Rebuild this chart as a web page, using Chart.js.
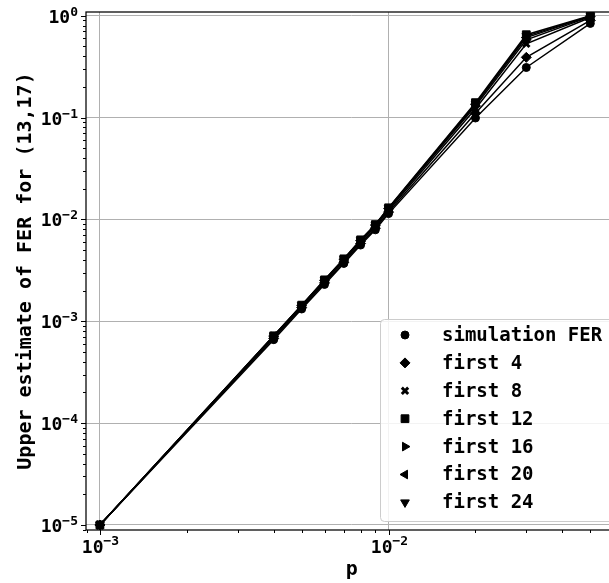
<!DOCTYPE html>
<html>
<head>
<meta charset="utf-8">
<script src="https://cdn.jsdelivr.net/npm/chart.js@4.4.1/dist/chart.umd.min.js"></script>
<style>
  html, body { margin: 0; padding: 0; background: #fff; overflow: hidden; }
  #wrap { width: 625px; height: 583px; }
</style>
</head>
<body>
<div id="wrap"><canvas id="graphique"></canvas></div>
<script>
// valeurs de p (axe x)
const pValues = [0.001, 0.004, 0.005, 0.006, 0.007, 0.008, 0.009, 0.01, 0.02, 0.03, 0.05];

// series
const simulationFER = [1e-5, 6.6e-4, 1.32e-3, 2.30e-3, 3.70e-3, 5.60e-3, 7.9e-3, 1.14e-2, 0.099, 0.31, 0.84];
const first4  = [1e-5, 6.8e-4, 1.36e-3, 2.38e-3, 3.80e-3, 5.80e-3, 8.2e-3, 1.18e-2, 0.110, 0.39, 0.90];
const first8  = [1e-5, 7.0e-4, 1.40e-3, 2.45e-3, 3.95e-3, 6.00e-3, 8.5e-3, 1.23e-2, 0.122, 0.53, 0.96];
const first12 = [1e-5, 7.2e-4, 1.44e-3, 2.55e-3, 4.10e-3, 6.30e-3, 8.9e-3, 1.30e-2, 0.140, 0.65, 1.00];
const first16 = [1e-5, 7.1e-4, 1.42e-3, 2.50e-3, 4.00e-3, 6.10e-3, 8.7e-3, 1.27e-2, 0.130, 0.58, 0.98];
const first20 = [1e-5, 7.15e-4, 1.43e-3, 2.52e-3, 4.05e-3, 6.20e-3, 8.8e-3, 1.28e-2, 0.135, 0.61, 0.99];
const first24 = [1e-5, 7.2e-4, 1.44e-3, 2.54e-3, 4.08e-3, 6.25e-3, 8.85e-3, 1.29e-2, 0.137, 0.63, 0.99];

const seriesLabels = ['simulation FER', 'first 4', 'first 8', 'first 12', 'first 16', 'first 20', 'first 24'];
const seriesValues = [simulationFER, first4, first8, first12, first16, first20, first24];

// style des marqueurs (forme, rotation, rayon, epaisseur)
const markerStyles = [
  { pointStyle: 'circle',   rotation: 0,   radius: 4,   borderWidth: 1 },
  { pointStyle: 'rectRot',  rotation: 0,   radius: 5,   borderWidth: 1 },
  { pointStyle: 'crossRot', rotation: 0,   radius: 4.5, borderWidth: 3 },
  { pointStyle: 'rect',     rotation: 0,   radius: 5.5, borderWidth: 1 },
  { pointStyle: 'triangle', rotation: 90,  radius: 5,   borderWidth: 1 },
  { pointStyle: 'triangle', rotation: -90, radius: 5,   borderWidth: 1 },
  { pointStyle: 'triangle', rotation: 180, radius: 5,   borderWidth: 1 },
];

const FONT = "'DejaVu Sans Mono', monospace";

function estDecade(v) {
  const e = Math.log10(v);
  return Math.abs(e - Math.round(e)) < 1e-9;
}

function exposant(v) {
  const e = Math.round(Math.log10(v));
  return e < 0 ? '\u2212' + (-e) : String(e);
}

function ticksLog(scale) {
  // toutes les graduations 1..9 x 10^n dans l'intervalle
  const ticks = [];
  for (let n = -7; n <= 1; n++) {
    for (let k = 1; k <= 9; k++) {
      const v = k * Math.pow(10, n);
      if (v >= scale.min * 0.9999 && v <= scale.max * 1.0001) ticks.push({ value: v });
    }
  }
  scale.ticks = ticks;
}

function ecrirePuissance(ctx, v, x, y, alignement) {
  // "10" puis l'exposant en plus petit et surélevé
  const exp = exposant(v);
  ctx.font = 'bold 18px ' + FONT;
  const w10 = ctx.measureText('10').width;
  ctx.font = 'bold 13px ' + FONT;
  const wExp = ctx.measureText(exp).width;
  const x0 = alignement === 'right' ? x - w10 - wExp : x - (w10 + wExp) / 2;
  ctx.textAlign = 'left';
  ctx.textBaseline = 'middle';
  ctx.font = 'bold 18px ' + FONT;
  ctx.fillText('10', x0, y);
  ctx.font = 'bold 13px ' + FONT;
  ctx.fillText(exp, x0 + w10, y - 6);
}

// petits traits de graduation (majeurs et mineurs), libellés et cadre
const graduations = {
  id: 'graduations',
  afterDraw(chart) {
    const ctx = chart.ctx;
    const area = chart.chartArea;
    const x = chart.scales.x, y = chart.scales.y;
    ctx.save();
    ctx.strokeStyle = '#000';
    ctx.fillStyle = '#000';
    ctx.lineWidth = 1;
    x.ticks.forEach(t => {
      const px = Math.round(x.getPixelForValue(t.value)) + 0.5;
      const len = estDecade(t.value) ? 5 : 3;
      ctx.beginPath();
      ctx.moveTo(px, area.bottom);
      ctx.lineTo(px, area.bottom + len);
      ctx.stroke();
      if (estDecade(t.value)) ecrirePuissance(ctx, t.value, px, area.bottom + 18, 'center');
    });
    y.ticks.forEach(t => {
      const py = Math.round(y.getPixelForValue(t.value)) + 0.5;
      const len = estDecade(t.value) ? 5 : 3;
      ctx.beginPath();
      ctx.moveTo(area.left, py);
      ctx.lineTo(area.left - len, py);
      ctx.stroke();
      if (estDecade(t.value)) ecrirePuissance(ctx, t.value, area.left - 8, py + 2, 'right');
    });
    ctx.lineWidth = 1.25;
    ctx.strokeRect(area.left, area.top, area.right - area.left, area.bottom - area.top);
    ctx.restore();
  }
};

// legende dans la zone du graphique, en bas a droite
const legendeInterne = {
  id: 'legendeInterne',
  afterDatasetsDraw(chart) {
    const ctx = chart.ctx;
    const bx = 380, by = 319, bw = 240, bh = 202;
    ctx.save();
    ctx.beginPath();
    ctx.roundRect(bx + 0.5, by + 0.5, bw, bh, 4);
    ctx.fillStyle = 'rgba(255,255,255,0.85)';
    ctx.fill();
    ctx.strokeStyle = '#cccccc';
    ctx.lineWidth = 1;
    ctx.stroke();
    ctx.font = 'bold 19px ' + FONT;
    ctx.textBaseline = 'middle';
    seriesLabels.forEach((lab, i) => {
      const yy = 335 + i * 27.9;
      const m = markerStyles[i];
      ctx.fillStyle = '#000';
      ctx.strokeStyle = '#000';
      ctx.lineWidth = m.borderWidth;
      Chart.helpers.drawPoint(ctx, m, 405, yy);
      ctx.fillStyle = '#000';
      ctx.fillText(lab, 442, yy + 1);
    });
    ctx.restore();
  }
};

const datasets = seriesValues.map((vals, i) => ({
  label: seriesLabels[i],
  data: vals.map((v, j) => ({ x: pValues[j], y: v })),
  borderColor: '#000',
  borderWidth: 1.5,
  backgroundColor: '#000',
  pointStyle: markerStyles[i].pointStyle,
  pointRotation: markerStyles[i].rotation,
  pointRadius: markerStyles[i].radius,
  pointBorderWidth: markerStyles[i].borderWidth,
  pointBackgroundColor: '#000',
  pointBorderColor: '#000',
  tension: 0,
}));

new Chart(document.getElementById('graphique'), {
  type: 'line',
  data: { datasets: datasets },
  options: {
    responsive: true,
    maintainAspectRatio: false,
    animation: false,
    layout: { padding: { top: 12, right: 5, left: 0, bottom: 0 } },
    plugins: { legend: { display: false }, tooltip: { enabled: false } },
    scales: {
      x: {
        type: 'logarithmic',
        min: 0.000895,
        max: 0.0621,
        afterBuildTicks: ticksLog,
        afterFit(scale) { scale.height = 53; scale.paddingLeft = 0; scale.paddingRight = 0; },
        grid: {
          drawTicks: false,
          color: ctx => (ctx.tick && estDecade(ctx.tick.value)) ? '#b0b0b0' : 'rgba(0,0,0,0)',
          lineWidth: 1,
        },
        border: { display: false },
        ticks: { autoSkip: false, maxRotation: 0, callback: () => '' },
        title: {
          display: true,
          text: 'p',
          color: '#000',
          font: { family: FONT, size: 20, weight: 'bold' },
          padding: { top: 0, bottom: 1 },
        },
      },
      y: {
        type: 'logarithmic',
        min: 8.93e-6,
        max: 1.087,
        afterBuildTicks: ticksLog,
        afterFit(scale) { scale.width = 86; scale.paddingTop = 0; scale.paddingBottom = 0; },
        grid: {
          drawTicks: false,
          color: ctx => (ctx.tick && estDecade(ctx.tick.value)) ? '#b0b0b0' : 'rgba(0,0,0,0)',
          lineWidth: 1,
        },
        border: { display: false },
        ticks: { autoSkip: false, callback: () => '' },
        title: {
          display: true,
          text: 'Upper estimate of FER for (13,17)',
          color: '#000',
          font: { family: FONT, size: 20, weight: 'bold' },
          padding: { top: 14, bottom: 0 },
        },
      },
    },
  },
  plugins: [graduations, legendeInterne],
});
</script>
</body>
</html>
